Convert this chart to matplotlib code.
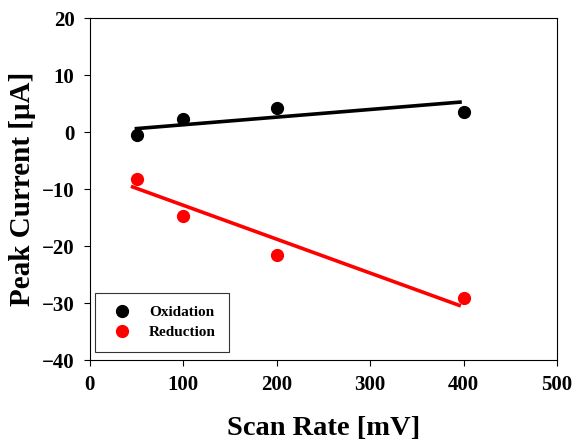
import matplotlib
matplotlib.use("Agg")
import matplotlib.pyplot as plt

scan_rate = [50, 100, 200, 400]
oxidation = [-0.5, 2.35, 4.3, 3.6]
reduction = [-8.2, -14.8, -21.5, -29.1]

ox_fit_x = [48, 398]
ox_fit_y = [0.6, 5.3]
red_fit_x = [44, 397]
red_fit_y = [-9.5, -30.5]

xticks = [0, 100, 200, 300, 400, 500]
yticks = [-40, -30, -20, -10, 0, 10, 20]

plt.rcParams['font.family'] = ['Liberation Serif', 'DejaVu Serif']
plt.rcParams['font.weight'] = 'bold'

fig = plt.figure(figsize=(5.72, 4.44), dpi=100)
ax = fig.add_axes([0.157, 0.189, 0.817, 0.770])

ax.plot(ox_fit_x, ox_fit_y, color='black', lw=2.6, solid_capstyle='butt', zorder=2)
ax.plot(red_fit_x, red_fit_y, color='#ff0000', lw=2.6, solid_capstyle='butt', zorder=2)
ax.plot(scan_rate, oxidation, 'o', color='black', ms=8.5, label='Oxidation', zorder=3)
ax.plot(scan_rate, reduction, 'o', color='#ff0000', ms=8.5, label='Reduction', zorder=3)

ax.set_xlim(0, 500)
ax.set_ylim(-40, 20)
ax.set_xticks(xticks)
ax.set_yticks(yticks)
ax.tick_params(direction='out', length=4, width=0.8, labelsize=15, pad=7)
for lab in ax.get_xticklabels() + ax.get_yticklabels():
    lab.set_fontweight('bold')
for s in ax.spines.values():
    s.set_linewidth(0.8)

ax.set_xlabel('Scan Rate [mV]', fontsize=20.5, fontweight='bold', labelpad=15)
ax.set_ylabel('Peak Current [μA]', fontsize=21, fontweight='bold', labelpad=4)

leg = ax.legend(loc='lower left', bbox_to_anchor=(0.012, 0.023),
                prop={'weight': 'bold', 'size': 11}, frameon=True, fancybox=False,
                edgecolor='black', borderpad=0.85, handletextpad=0.88, labelspacing=0.4,
                handlelength=1.78, borderaxespad=0)
leg.get_frame().set_linewidth(0.8)

fig.savefig('out.png', dpi=100)
